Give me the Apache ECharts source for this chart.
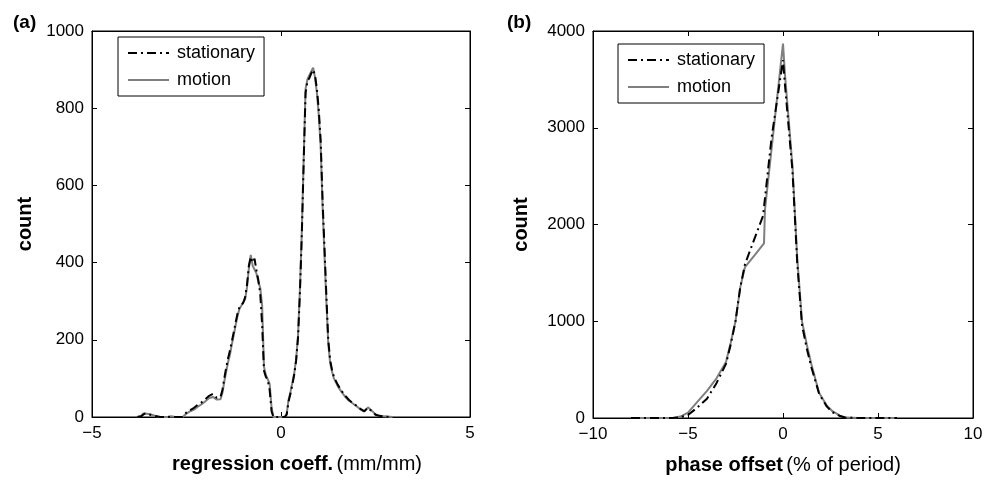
<!DOCTYPE html>
<html>
<head>
<meta charset="utf-8">
<script src="https://cdn.jsdelivr.net/npm/echarts@6/dist/echarts.min.js"></script>
<style>html,body{margin:0;padding:0;background:#fff;}#c{width:987px;height:481px;}</style>
</head>
<body>
<div id="c"></div>
<script>
// ---- data (a): regression coefficient histogram ----
const motionA = [[-3.8,0],[-3.7,3],[-3.65,9],[-3.6,11],[-3.5,8],[-3.4,5],[-3.3,2],[-3.2,0],[-3.0,0],[-2.9,2],[-2.85,3],[-2.8,0],[-2.6,0],[-2.55,4],[-2.5,9],[-2.4,15],[-2.3,19],[-2.2,27],[-2.1,33],[-2.0,41],[-1.9,49],[-1.85,51],[-1.8,52],[-1.75,47],[-1.7,45],[-1.65,44],[-1.6,46],[-1.55,62],[-1.5,92],[-1.45,118],[-1.4,142],[-1.35,162],[-1.3,188],[-1.25,212],[-1.2,238],[-1.15,262],[-1.1,280],[-1.05,288],[-1.0,293],[-0.95,305],[-0.9,335],[-0.85,385],[-0.8,420],[-0.75,392],[-0.7,388],[-0.65,372],[-0.6,350],[-0.55,335],[-0.5,290],[-0.45,130],[-0.4,108],[-0.35,98],[-0.3,85],[-0.25,25],[-0.2,0],[0.1,0],[0.15,8],[0.2,45],[0.25,65],[0.3,88],[0.35,113],[0.4,150],[0.45,210],[0.5,330],[0.55,480],[0.6,670],[0.65,850],[0.7,875],[0.75,880],[0.8,895],[0.85,905],[0.9,880],[0.95,840],[1.0,780],[1.05,700],[1.1,545],[1.15,420],[1.2,300],[1.25,190],[1.3,140],[1.35,118],[1.4,100],[1.5,80],[1.6,65],[1.7,52],[1.8,42],[1.9,35],[2.0,28],[2.1,20],[2.2,14],[2.25,18],[2.3,25],[2.35,25],[2.4,16],[2.5,7],[2.6,3],[2.7,2],[2.8,1],[2.95,0]];
const stationaryA = [[-3.8,0],[-3.7,2],[-3.65,7],[-3.6,9],[-3.5,7],[-3.4,4],[-3.3,2],[-3.2,0],[-3.0,0],[-2.9,1],[-2.85,2],[-2.8,0],[-2.6,0],[-2.55,6],[-2.5,12],[-2.4,18],[-2.3,24],[-2.2,32],[-2.1,38],[-2.0,46],[-1.9,55],[-1.85,58],[-1.8,60],[-1.75,55],[-1.7,50],[-1.65,48],[-1.6,52],[-1.55,70],[-1.5,100],[-1.45,128],[-1.4,152],[-1.35,172],[-1.3,196],[-1.25,220],[-1.2,245],[-1.15,268],[-1.1,284],[-1.05,290],[-1.0,296],[-0.95,310],[-0.9,342],[-0.85,392],[-0.8,415],[-0.75,400],[-0.7,410],[-0.65,380],[-0.6,355],[-0.55,320],[-0.5,240],[-0.45,120],[-0.4,104],[-0.35,95],[-0.3,70],[-0.25,15],[-0.2,0],[0.1,0],[0.15,6],[0.2,40],[0.25,60],[0.3,84],[0.35,110],[0.4,146],[0.45,205],[0.5,320],[0.55,470],[0.6,660],[0.65,840],[0.7,870],[0.75,878],[0.8,890],[0.85,900],[0.9,885],[0.95,850],[1.0,795],[1.05,715],[1.1,560],[1.15,440],[1.2,315],[1.25,200],[1.3,148],[1.35,122],[1.4,104],[1.5,84],[1.6,68],[1.7,55],[1.8,44],[1.9,36],[2.0,29],[2.1,21],[2.2,15],[2.25,19],[2.3,24],[2.35,22],[2.4,15],[2.5,6],[2.6,3],[2.7,2],[2.8,1],[2.95,0]];

// ---- data (b): phase offset histogram ----
const motionB = [[-8,0],[-6,0],[-5.8,0],[-5.4,15],[-5,55],[-4.5,170],[-4,280],[-3.5,410],[-3,580],[-2.75,780],[-2.5,1000],[-2.25,1350],[-2,1560],[-1.5,1680],[-1,1805],[-0.95,2150],[0,3870],[0.1,3560],[0.5,2600],[0.75,1650],[1,1000],[1.25,760],[1.5,550],[1.9,260],[2.3,130],[2.6,70],[3,25],[3.3,4],[4,0],[6,0]];
const stationaryB = [[-8,0],[-6,0],[-5.8,0],[-5.4,8],[-5,30],[-4.5,110],[-4,200],[-3.5,360],[-3,560],[-2.75,760],[-2.5,1000],[-2.25,1350],[-2,1590],[-1.05,2090],[-0.6,2900],[0,3700],[0.1,3450],[0.5,2550],[0.75,1600],[1,960],[1.25,720],[1.5,520],[1.9,250],[2.3,120],[2.6,60],[3,20],[3.3,3],[4,0],[6,0]];

// ---- axis setup ----
const xTicksA = {min:-5, max:5, interval:5};
const yTicksA = {min:0, max:1000, interval:200};
const xTicksB = {min:-10, max:10, interval:5};
const yTicksB = {min:0, max:4000, interval:1000};
const legendNames = ['stationary','motion'];

const FONT = "'Liberation Sans', Arial, Helvetica, sans-serif";
const fmt = v => String(v).replace('-', '\u2212');

function axis(gridIndex, ticks, position, showLabel, extra) {
  return Object.assign({
    type:'value', gridIndex, position,
    min:ticks.min, max:ticks.max, interval:ticks.interval,
    axisLine:{show:true, onZero:false, lineStyle:{color:'#000', width:1}},
    axisTick:{show:true, inside:true, length:5, lineStyle:{color:'#000'}},
    axisLabel:{show:showLabel, color:'#000', fontSize:17, fontFamily:FONT, margin:8, formatter:fmt},
    splitLine:{show:false}
  }, extra || {});
}

const nameRich = {
  b:{fontWeight:'bold', fontSize:20, fontFamily:FONT, color:'#000'},
  n:{fontWeight:'normal', fontSize:20, fontFamily:FONT, color:'#000'}
};

const legendBase = {
  orient:'vertical', data:legendNames, itemWidth:41, itemHeight:14, itemGap:9,
  padding:[7,9,7,9], borderColor:'#000', borderWidth:1, borderRadius:0, backgroundColor:'#fff',
  itemStyle:{opacity:0, borderWidth:0},
  textStyle:{fontSize:18, fontFamily:FONT, color:'#000', padding:[0,0,0,3]}
};

const statStyle = {color:'#000', width:2, type:[9,4,2,4]};
const motStyle = {color:'#7f7f7f', width:2, type:'solid'};
const yNameStyle = {fontWeight:'bold', fontSize:20, fontFamily:FONT, color:'#000'};

const option = {
  animation:false,
  backgroundColor:'#fff',
  title:[
    {text:'(a)', left:13, top:13, padding:0, textStyle:{fontSize:19, fontWeight:'bold', fontFamily:FONT, color:'#000'}},
    {text:'(b)', left:507, top:13, padding:0, textStyle:{fontSize:19, fontWeight:'bold', fontFamily:FONT, color:'#000'}}
  ],
  grid:[
    {left:92, top:31, width:378, height:386, show:true, borderColor:'#000', borderWidth:1, backgroundColor:'transparent'},
    {left:593, top:31, width:380, height:387, show:true, borderColor:'#000', borderWidth:1, backgroundColor:'transparent'}
  ],
  legend:[
    Object.assign({left:118, top:37}, legendBase),
    Object.assign({left:618, top:44}, legendBase)
  ],
  xAxis:[
    axis(0, xTicksA, 'bottom', true, {name:'{b|regression coeff.} {n|(mm/mm)}', nameLocation:'middle', nameGap:37,
      nameTextStyle:{rich:nameRich, padding:[0,0,0,32]}}),
    axis(0, xTicksA, 'top', false),
    axis(1, xTicksB, 'bottom', true, {name:'{b|phase offset} {n|(% of period)}', nameLocation:'middle', nameGap:37,
      nameTextStyle:{rich:nameRich}}),
    axis(1, xTicksB, 'top', false)
  ],
  yAxis:[
    axis(0, yTicksA, 'left', true, {name:'count', nameLocation:'middle', nameGap:57, nameTextStyle:yNameStyle}),
    axis(0, yTicksA, 'right', false),
    axis(1, yTicksB, 'left', true, {name:'count', nameLocation:'middle', nameGap:62, nameTextStyle:yNameStyle}),
    axis(1, yTicksB, 'right', false)
  ],
  series:[
    {name:'motion', type:'line', xAxisIndex:0, yAxisIndex:0, data:motionA, symbol:'none', lineStyle:motStyle, itemStyle:{color:'#7f7f7f'}, z:2},
    {name:'stationary', type:'line', xAxisIndex:0, yAxisIndex:0, data:stationaryA, symbol:'none', lineStyle:statStyle, itemStyle:{color:'#000'}, z:3},
    {name:'motion', type:'line', xAxisIndex:2, yAxisIndex:2, data:motionB, symbol:'none', lineStyle:motStyle, itemStyle:{color:'#7f7f7f'}, z:2},
    {name:'stationary', type:'line', xAxisIndex:2, yAxisIndex:2, data:stationaryB, symbol:'none', lineStyle:statStyle, itemStyle:{color:'#000'}, z:3}
  ]
};

const chart = echarts.init(document.getElementById('c'), null, {renderer:'canvas'});
chart.setOption(option);
</script>
</body>
</html>
